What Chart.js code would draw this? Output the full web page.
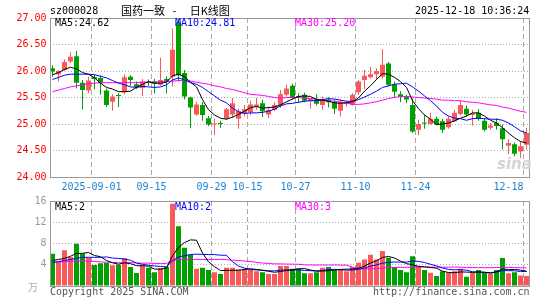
<!DOCTYPE html>
<html>
<head>
<meta charset="utf-8">
<script src="https://cdn.jsdelivr.net/npm/chart.js@4.4.1/dist/chart.umd.min.js"></script>
<style>
html,body{margin:0;padding:0;background:#fff;}
#wrap{position:relative;width:545px;height:300px;overflow:hidden;font-family:"DejaVu Sans Mono",monospace;font-size:10px;}
.t{position:absolute;white-space:pre;line-height:12px;}
canvas{position:absolute;left:0;}
</style>
</head>
<body>
<div id="wrap">
<canvas id="pc" width="545" height="195" style="top:0;width:545px;height:195px"></canvas>
<canvas id="vc" width="545" height="105" style="top:195px;width:545px;height:105px"></canvas>
<div class="t" style="left:50px;top:5px;color:#000">sz000028</div>
<div class="t" style="left:121px;top:4px;color:#000;font-family:'Noto Sans CJK SC';font-size:11px;line-height:13px">国药一致 <span style="padding:0 11px 0 5px">-</span> 日K线图</div>
<div class="t" style="left:415px;top:5px;color:#000">2025-12-18 10:36:24</div>
<div class="t" style="left:55px;top:17px;color:#000">MA5:24.62</div>
<div class="t" style="left:175px;top:17px;color:#0000ff">MA10:24.81</div>
<div class="t" style="left:295px;top:17px;color:#ff00ff">MA30:25.20</div>
<div class="t" style="left:55px;top:201px;color:#000">MA5:2</div>
<div class="t" style="left:175px;top:201px;color:#0000ff">MA10:2</div>
<div class="t" style="left:295px;top:201px;color:#ff00ff">MA30:3</div>
<div class="t" style="left:497px;top:155px;color:#d4d4d4;font-family:'DejaVu Sans';font-style:italic;font-weight:bold;font-size:15px;line-height:18px">sina</div>
<div class="t" style="left:28px;top:281px;color:#aaa;font-family:'Noto Sans CJK SC';font-size:10px">万</div>
<div class="t" style="left:50px;top:286px;color:#555">Copyright 2025 SINA.COM</div>
<div class="t" style="left:373px;top:286px;color:#555">http://finance.sina.com.cn</div>
</div>
<script>
const dates = [
 '2025-08-21','2025-08-22','2025-08-25','2025-08-26','2025-08-27','2025-08-28','2025-08-29',
 '2025-09-01','2025-09-02','2025-09-03','2025-09-04','2025-09-05','2025-09-08','2025-09-09','2025-09-10','2025-09-11','2025-09-12',
 '2025-09-15','2025-09-16','2025-09-17','2025-09-18','2025-09-19','2025-09-22','2025-09-23','2025-09-24','2025-09-25','2025-09-26',
 '2025-09-29','2025-09-30',
 '2025-10-09','2025-10-10','2025-10-13','2025-10-14','2025-10-15','2025-10-16','2025-10-17','2025-10-20','2025-10-21','2025-10-22','2025-10-23','2025-10-24',
 '2025-10-27','2025-10-28','2025-10-29','2025-10-30','2025-10-31',
 '2025-11-03','2025-11-04','2025-11-05','2025-11-06','2025-11-07','2025-11-10','2025-11-11','2025-11-12','2025-11-13','2025-11-14',
 '2025-11-17','2025-11-18','2025-11-19','2025-11-20','2025-11-21','2025-11-24','2025-11-25','2025-11-26','2025-11-27','2025-11-28',
 '2025-12-01','2025-12-02','2025-12-03','2025-12-04','2025-12-05','2025-12-08','2025-12-09','2025-12-10','2025-12-11','2025-12-12',
 '2025-12-15','2025-12-16','2025-12-17','2025-12-18'
];
const tickDates  = ['2025-09-01','2025-09-15','2025-09-29','2025-10-15','2025-10-27','2025-11-10','2025-11-24','2025-12-18'];
const tickLabels = ['2025-09-01','09-15','09-29','10-15','10-27','11-10','11-24','12-18'];
const priceTicks = [24.00, 24.50, 25.00, 25.50, 26.00, 26.50, 27.00];
const volTicks = [0, 4, 8, 12, 16];

const open = [
 26.05,25.94,26.02,26.18,26.28,25.78,25.63,25.88,25.87,25.63,
 25.42,25.54,25.60,25.89,25.75,25.68,25.80,25.80,25.74,25.85,
 25.89,26.92,25.96,25.50,25.18,25.36,25.11,24.99,25.01,25.10,
 25.18,25.10,25.19,25.22,25.33,25.39,25.18,25.27,25.36,25.55,
 25.72,25.53,25.55,25.44,25.46,25.36,25.46,25.41,25.25,25.38,
 25.36,25.60,25.83,25.88,25.94,25.89,26.14,25.75,25.56,25.51,
 25.36,24.89,25.03,25.00,25.10,25.05,24.94,25.05,25.19,25.29,
 25.17,25.21,25.06,24.93,25.02,24.92,24.59,24.62,24.48,24.61
];
const high = [
 26.11,26.02,26.22,26.36,26.38,25.83,25.89,25.93,25.92,25.67,
 25.56,25.58,25.94,25.92,25.80,25.85,25.84,25.85,26.25,25.90,
 26.80,27.00,26.02,25.52,25.42,25.41,25.15,25.10,25.06,25.30,
 25.49,25.29,25.36,25.44,25.49,25.46,25.33,25.41,25.64,25.74,
 25.76,25.58,25.59,25.49,25.56,25.52,25.50,25.46,25.46,25.44,
 25.58,25.83,26.02,26.08,26.05,26.41,26.17,25.80,25.62,25.55,
 25.48,25.08,25.17,25.21,25.14,25.10,25.14,25.27,25.44,25.35,
 25.27,25.28,25.11,25.02,25.11,24.99,24.71,24.65,24.67,24.93
];
const low = [
 25.89,25.80,26.00,26.15,25.67,25.28,25.58,25.65,25.55,25.32,
 25.25,25.32,25.56,25.72,25.66,25.53,25.72,25.58,25.72,25.58,
 25.71,25.80,25.46,24.92,25.15,25.06,24.96,24.79,24.93,25.08,
 25.11,24.91,25.14,25.17,25.27,25.13,25.11,25.24,25.30,25.52,
 25.46,25.40,25.41,25.29,25.35,25.27,25.31,25.19,25.14,25.33,
 25.35,25.55,25.66,25.86,25.83,25.86,25.71,25.49,25.41,25.39,
 24.83,24.79,24.91,24.99,24.97,24.83,24.91,25.04,25.16,25.14,
 24.97,25.06,24.86,24.89,24.89,24.52,24.43,24.39,24.36,24.52
];
const close = [
 25.99,26.00,26.17,26.27,25.78,25.64,25.82,25.85,25.77,25.36,
 25.52,25.53,25.88,25.83,25.70,25.80,25.78,25.76,25.83,25.80,
 26.40,25.92,25.52,25.31,25.37,25.17,24.99,25.00,25.00,25.28,
 25.39,25.24,25.28,25.37,25.37,25.24,25.27,25.36,25.56,25.67,
 25.49,25.51,25.44,25.47,25.38,25.46,25.41,25.29,25.42,25.41,
 25.55,25.80,25.91,25.94,26.00,26.12,25.74,25.61,25.52,25.46,
 24.86,25.00,25.01,25.10,24.99,24.89,25.10,25.21,25.36,25.18,
 25.20,25.10,24.89,24.97,24.96,24.71,24.64,24.44,24.58,24.83
];
const ma5 = [
 25.93,25.97,26.03,26.07,26.04,25.97,25.94,25.87,25.77,25.69,
 25.66,25.61,25.61,25.62,25.69,25.75,25.80,25.77,25.77,25.79,
 25.91,25.94,25.89,25.79,25.70,25.46,25.27,25.17,25.11,25.09,
 25.13,25.18,25.24,25.31,25.33,25.30,25.31,25.32,25.36,25.42,
 25.47,25.52,25.53,25.52,25.46,25.45,25.43,25.40,25.39,25.40,
 25.42,25.49,25.62,25.72,25.84,25.95,25.94,25.88,25.80,25.69,
 25.44,25.29,25.17,25.09,24.99,25.00,25.02,25.06,25.11,25.15,
 25.21,25.21,25.15,25.07,25.02,24.93,24.83,24.74,24.67,24.64
];
const ma10 = [
 25.84,25.88,25.92,25.94,25.94,25.94,25.94,25.93,25.90,25.87,
 25.82,25.77,25.74,25.70,25.69,25.71,25.70,25.69,25.70,25.74,
 25.83,25.87,25.83,25.78,25.75,25.69,25.61,25.53,25.45,25.40,
 25.30,25.23,25.20,25.21,25.21,25.22,25.24,25.28,25.34,25.38,
 25.39,25.41,25.43,25.44,25.44,25.46,25.48,25.47,25.45,25.43,
 25.43,25.46,25.51,25.56,25.62,25.69,25.72,25.75,25.76,25.77,
 25.70,25.62,25.53,25.44,25.34,25.22,25.15,25.11,25.10,25.07,
 25.10,25.11,25.10,25.09,25.09,25.07,25.02,24.95,24.87,24.83
];
const ma30 = [
 25.61,25.64,25.67,25.70,25.72,25.74,25.76,25.77,25.78,25.78,
 25.78,25.78,25.78,25.78,25.78,25.79,25.79,25.79,25.80,25.80,
 25.81,25.82,25.82,25.81,25.79,25.77,25.75,25.72,25.70,25.67,
 25.65,25.62,25.59,25.56,25.55,25.54,25.52,25.50,25.49,25.50,
 25.50,25.50,25.49,25.48,25.47,25.45,25.44,25.43,25.41,25.40,
 25.37,25.37,25.38,25.40,25.42,25.45,25.48,25.50,25.52,25.52,
 25.51,25.50,25.49,25.48,25.47,25.45,25.45,25.44,25.44,25.42,
 25.41,25.40,25.38,25.36,25.35,25.32,25.30,25.27,25.24,25.22
];
const volume = [
 6.06,4.50,6.75,5.44,7.94,6.10,5.30,3.94,4.30,4.40,
 3.90,3.94,5.25,3.56,2.44,3.90,3.44,2.60,3.40,3.56,
 15.50,11.25,7.20,5.90,3.25,3.44,3.00,2.60,2.25,3.44,
 3.44,3.10,3.25,3.00,2.80,2.60,2.25,2.25,3.75,3.75,
 3.25,3.25,2.40,2.40,2.60,3.44,3.60,3.00,3.00,2.80,
 3.56,4.40,5.00,5.90,5.00,6.60,5.30,3.56,3.00,2.60,
 5.60,3.75,3.00,2.50,1.90,2.80,2.50,2.80,3.25,1.75,
 2.50,3.00,2.50,2.30,3.00,5.25,2.40,2.60,2.00,1.90
];
const volMa5 = [
 4.80,5.00,5.20,5.60,6.14,6.15,6.31,5.74,5.52,4.81,
 4.37,4.10,4.36,4.21,3.82,3.82,3.72,3.19,3.16,3.38,
 5.70,7.26,8.18,8.68,8.62,6.21,4.56,3.64,2.91,2.95,
 2.95,2.97,3.10,3.25,3.12,2.95,2.78,2.58,2.73,2.92,
 3.05,3.25,3.28,3.01,2.78,2.82,2.89,3.01,3.13,3.17,
 3.19,3.35,3.75,4.33,4.77,5.38,5.56,5.27,4.69,4.21,
 4.01,3.70,3.59,3.49,3.35,2.79,2.54,2.50,2.65,2.62,
 2.56,2.66,2.60,2.41,2.66,3.21,3.09,3.11,3.00,2.78
];
const volMa10 = [
 4.40,4.60,4.80,5.00,5.20,5.40,5.40,5.40,5.40,5.47,
 5.26,5.20,5.05,4.86,4.31,4.09,3.91,3.77,3.68,3.60,
 4.76,5.49,5.69,5.92,6.00,5.95,5.91,5.91,5.80,5.78,
 4.58,3.76,3.37,3.08,3.03,2.95,2.87,2.84,2.99,3.02,
 3.00,3.02,2.93,2.87,2.85,2.93,3.07,3.14,3.07,2.97,
 3.01,3.12,3.38,3.73,3.97,4.29,4.46,4.51,4.51,4.49,
 4.70,4.63,4.43,4.09,3.78,3.40,3.12,3.05,3.07,2.99,
 2.68,2.60,2.55,2.53,2.64,2.89,2.88,2.86,2.73,2.75
];
const volMa30 = [
 4.50,4.55,4.60,4.65,4.70,4.70,4.70,4.60,4.55,4.50,
 4.45,4.40,4.40,4.40,4.35,4.30,4.30,4.25,4.25,4.25,
 4.75,4.95,5.00,5.00,5.00,5.00,5.00,5.00,5.00,4.95,
 4.86,4.82,4.70,4.62,4.45,4.33,4.23,4.17,4.16,4.13,
 4.11,4.09,3.99,3.96,3.96,3.95,3.95,3.96,3.95,3.93,
 3.53,3.30,3.23,3.23,3.28,3.39,3.47,3.50,3.52,3.50,
 3.57,3.59,3.58,3.56,3.53,3.54,3.55,3.57,3.55,3.48,
 3.46,3.45,3.45,3.45,3.46,3.52,3.48,3.47,3.44,3.41
];

const RED = '#f85a5a', GREEN = '#00a000';
const barColors = close.map((c, i) => c >= open[i] ? RED : GREEN);
const tickIdx = tickDates.map(d => dates.indexOf(d));
const monoFont = {family: '"DejaVu Sans Mono", monospace', size: 10};
const CLEAR = 'rgba(0,0,0,0)';

const boxPlugin = {
  id: 'box',
  afterDraw(chart) {
    const {ctx, chartArea: a} = chart;
    ctx.save();
    ctx.strokeStyle = '#9a9a9a';
    ctx.lineWidth = 1;
    ctx.setLineDash([]);
    const x0 = Math.round(a.left) + 0.5, x1 = Math.round(a.right) - 0.5;
    const y0 = Math.round(a.top) + 0.5, y1 = Math.round(a.bottom) + 0.5;
    ctx.strokeRect(x0, y0, x1 - x0, y1 - y0);
    ctx.restore();
  }
};

function xScale(showLabels) {
  return {
    type: 'category',
    offset: true,
    grid: {
      offset: true, drawTicks: false, lineWidth: 1,
      color: c => (c.index !== undefined && tickIdx.includes(c.index)) ? '#aaaaaa' : CLEAR
    },
    border: {display: false, dash: [5, 3]},
    ticks: {
      display: showLabels, autoSkip: false, maxRotation: 0, minRotation: 0,
      padding: 4, labelOffset: -3, color: '#1e82d2', font: monoFont,
      callback: (v, i) => {
        const k = tickIdx.indexOf(i);
        if (k < 0) return '';
        return tickLabels[k] + (k === tickIdx.length - 1 ? '     ' : '');
      }
    },
    afterFit: s => { s.height = showLabels ? 18 : 0; s.paddingLeft = 0; s.paddingRight = 0; }
  };
}

function yScale(ticksArr, color, fmt) {
  const mn = ticksArr[0], mx = ticksArr[ticksArr.length - 1];
  return {
    min: mn, max: mx,
    afterBuildTicks: s => { s.ticks = ticksArr.map(v => ({value: v})); },
    ticks: {color: color, font: monoFont, padding: 3, callback: fmt},
    grid: {
      drawTicks: false, lineWidth: 1,
      color: c => (c.tick && c.tick.value > mn && c.tick.value < mx) ? '#aaaaaa' : CLEAR
    },
    border: {display: false, dash: [1, 2]},
    afterFit: s => { s.width = 49.5; s.paddingTop = 0; s.paddingBottom = 0; }
  };
}

function lineDs(label, data, color) {
  return {type: 'line', label: label, data: data, borderColor: color, backgroundColor: color,
    borderWidth: 1, pointRadius: 0, pointHoverRadius: 0, tension: 0, fill: false, order: 0};
}

const common = {
  responsive: false, animation: false, devicePixelRatio: 1, events: [],
  plugins: {legend: {display: false}, tooltip: {enabled: false}}
};

new Chart(document.getElementById('pc'), {
  type: 'bar',
  data: {
    labels: dates,
    datasets: [
      lineDs('MA5', ma5, '#000000'),
      lineDs('MA10', ma10, '#0000ff'),
      lineDs('MA30', ma30, '#ff00ff'),
      {type: 'bar', label: 'body', data: open.map((o, i) => [o, close[i]]),
       backgroundColor: barColors, borderWidth: 0, barThickness: 5, grouped: false,
       minBarLength: 1, inflateAmount: 0, order: 1},
      {type: 'bar', label: 'wick', data: low.map((l, i) => [l, high[i]]),
       backgroundColor: barColors, borderWidth: 0, barThickness: 1, grouped: false,
       inflateAmount: 0, order: 2}
    ]
  },
  options: Object.assign({}, common, {
    layout: {autoPadding: false, padding: {left: 0, right: 15.5, top: 18, bottom: 0}},
    scales: {
      x: xScale(true),
      y: yScale(priceTicks, '#ff0000', v => Number(v).toFixed(2))
    }
  }),
  plugins: [boxPlugin]
});

new Chart(document.getElementById('vc'), {
  type: 'bar',
  data: {
    labels: dates,
    datasets: [
      lineDs('MA5', volMa5, '#000000'),
      lineDs('MA10', volMa10, '#0000ff'),
      lineDs('MA30', volMa30, '#ff00ff'),
      {type: 'bar', label: 'vol', data: volume, backgroundColor: barColors, borderWidth: 0,
       barThickness: 5, grouped: false, inflateAmount: 0, order: 1}
    ]
  },
  options: Object.assign({}, common, {
    layout: {autoPadding: false, padding: {left: 0, right: 15.5, top: 6, bottom: 14}},
    scales: {
      x: xScale(false),
      y: yScale(volTicks, '#999999', v => v === 0 ? '' : String(v))
    }
  }),
  plugins: [boxPlugin]
});
</script>
</body>
</html>
